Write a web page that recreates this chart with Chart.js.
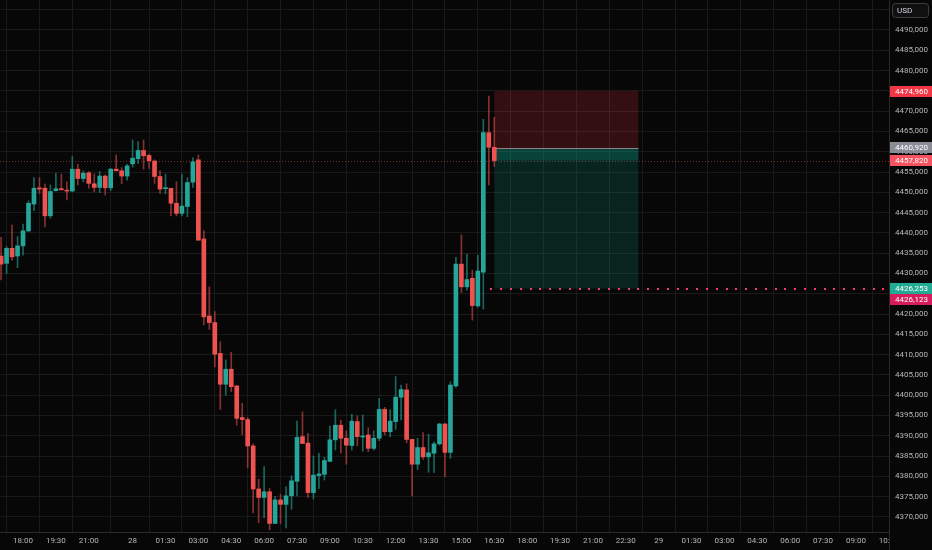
<!DOCTYPE html>
<html>
<head>
<meta charset="utf-8">
<script src="https://cdn.jsdelivr.net/npm/chart.js@4.4.1/dist/chart.umd.min.js"></script>
<style>
  html, body { margin: 0; padding: 0; background: #070707; }
  #wrap { width: 932px; height: 550px; position: relative; }
</style>
</head>
<body>
<div id="wrap"><canvas id="chart"></canvas></div>
<script>
// 15m candles, index 0 = 17:00 on the 27th
const opens  = [4434.3,4432.5,4436.2,4434.3,4436.8,4440.5,4447.1,4451.1,4451.0,4444.2,4450.4,4450.9,4450.5,4450.3,4455.7,4453.4,4454.8,4452.1,4451.2,4454.0,4451.1,4455.7,4455.3,4454.0,4457.0,4458.3,4460.3,4459.1,4457.7,4453.9,4450.9,4451.0,4447.3,4444.8,4446.5,4452.5,4458.0,4438.5,4419.5,4417.9,4410.3,4402.7,4406.4,4402.3,4394.5,4394.0,4387.5,4376.9,4374.8,4376.2,4368.4,4374.2,4373.1,4375.2,4378.8,4389.8,4388.2,4376.0,4380.2,4380.5,4383.7,4389.0,4392.6,4389.4,4387.6,4393.5,4389.7,4390.2,4386.9,4389.4,4396.5,4391.0,4393.5,4399.5,4401.3,4389.1,4383.0,4387.1,4384.8,4385.7,4388.0,4392.9,4385.9,4402.3,4432.3,4426.7,4428.8,4422.0,4430.3,4464.7,4461.1];
const highs  = [4438.9,4436.6,4441.9,4439.1,4442.2,4447.9,4453.6,4453.6,4452.0,4451.8,4454.7,4454.5,4452.6,4458.8,4456.9,4455.3,4455.1,4454.5,4455.1,4454.3,4455.9,4459.2,4456.1,4456.9,4462.9,4462.5,4462.9,4459.4,4458.0,4455.3,4454.5,4451.0,4452.6,4454.5,4453.6,4458.5,4459.2,4440.5,4426.7,4420.6,4413.2,4408.7,4410.6,4402.3,4398.0,4394.5,4388.0,4379.3,4382.4,4377.0,4375.1,4375.6,4377.4,4380.1,4393.6,4395.9,4390.6,4385.0,4385.7,4384.7,4392.4,4396.4,4393.9,4391.2,4395.3,4394.9,4395.1,4392.0,4391.2,4399.2,4397.0,4396.4,4404.6,4402.5,4402.8,4389.1,4389.4,4390.8,4390.4,4388.5,4393.1,4393.1,4403.3,4434.0,4439.5,4434.8,4430.8,4434.5,4468.0,4473.7,4468.5];
const lows   = [4428.4,4430.0,4433.3,4431.4,4434.5,4440.3,4445.5,4449.7,4441.5,4443.6,4450.3,4450.6,4448.1,4450.2,4451.8,4452.6,4451.0,4450.1,4449.9,4449.3,4450.4,4455.3,4452.1,4453.0,4456.2,4457.1,4455.7,4455.9,4452.2,4449.7,4449.6,4444.2,4444.2,4444.2,4444.0,4451.2,4438.2,4417.3,4416.2,4407.0,4396.5,4400.0,4400.9,4392.6,4390.2,4382.2,4371.0,4368.6,4369.8,4366.8,4368.4,4368.4,4367.3,4371.9,4375.2,4388.1,4374.8,4374.4,4377.0,4379.1,4383.6,4386.5,4385.7,4383.0,4386.5,4387.5,4386.2,4386.1,4386.5,4388.8,4390.2,4389.8,4391.6,4393.9,4388.3,4375.2,4381.7,4384.2,4381.0,4381.0,4387.7,4379.9,4384.4,4401.9,4425.3,4425.9,4418.5,4421.7,4421.2,4451.8,4456.3];
const closes = [4432.3,4436.2,4434.1,4436.8,4440.5,4447.3,4451.0,4450.8,4444.2,4450.2,4450.9,4450.6,4450.3,4455.7,4453.4,4454.7,4452.2,4451.2,4454.0,4451.1,4455.7,4455.3,4454.0,4456.5,4458.4,4460.3,4459.0,4457.8,4453.9,4450.8,4451.1,4447.3,4444.8,4446.6,4452.4,4457.5,4438.2,4419.3,4417.9,4410.1,4402.7,4406.4,4402.1,4394.3,4394.0,4387.5,4376.9,4374.8,4376.2,4368.4,4374.2,4373.1,4375.2,4378.9,4389.6,4388.1,4376.0,4380.3,4380.6,4383.9,4389.0,4392.6,4389.4,4387.7,4393.6,4389.8,4389.9,4386.9,4389.4,4396.5,4391.0,4393.6,4399.5,4401.4,4389.1,4383.0,4387.1,4384.8,4385.8,4388.0,4392.9,4385.9,4402.5,4432.3,4426.7,4428.5,4422.1,4430.6,4464.7,4461.1,4457.82];

// time axis: bar index of each label
const timeTickIdx    = [4, 10, 16, 24, 30, 36, 42, 48, 54, 60, 66, 72, 78, 84, 90, 96, 102, 108, 114, 120, 126, 132, 138, 144, 150, 156, 162];
const timeTickLabels = ['18:00','19:30','21:00','28','01:30','03:00','04:30','06:00','07:30','09:00','10:30','12:00','13:30','15:00','16:30','18:00','19:30','21:00','22:30','29','01:30','03:00','04:30','06:00','07:30','09:00','10:30'];
const priceTicks = [4370,4375,4380,4385,4390,4395,4400,4405,4410,4415,4420,4425,4430,4435,4440,4445,4450,4455,4460,4465,4470,4475,4480,4485,4490,4495];

// short position tool: stop, entry, target and its time span (bar index)
const posLevels = [4474.960, 4460.920, 4426.253];
const posSpan = [90, 116.3];
const lastPrice = 4457.820;
const alertPrice = 4426.123;
const alertStartIdx = 89.3;

const UP = '#26a69a';
const DOWN = '#ef5350';
const UP_WICK = 'rgba(38,166,154,0.6)';
const DOWN_WICK = 'rgba(239,83,80,0.55)';
const BG = '#070707';
const GRID = '#1a1a1a';
const FONT = "Roboto, 'Liberation Sans', sans-serif";

const fmt = v => v.toFixed(3).replace('.', ',');

const bodies = opens.map((o, i) => ({ x: i, y: [o, closes[i]] }));
const wicks = opens.map((o, i) => ({ x: i, y: [lows[i], highs[i]] }));
const isUp = opens.map((o, i) => closes[i] >= o);

const noPadding = scale => {
    scale.paddingTop = 0;
    scale.paddingBottom = 0;
    scale.paddingLeft = 0;
    scale.paddingRight = 0;
};

const overlay = {
    id: 'overlay',
    beforeDatasetsDraw(chart) {
        const { ctx, chartArea: a, scales: { x, y } } = chart;
        const x0 = x.getPixelForValue(posSpan[0]);
        const x1 = x.getPixelForValue(posSpan[1]);
        const yStop = y.getPixelForValue(posLevels[0]);
        const yEntry = y.getPixelForValue(posLevels[1]);
        const yTarget = y.getPixelForValue(posLevels[2]);
        const yNow = y.getPixelForValue(lastPrice);
        ctx.save();
        ctx.fillStyle = 'rgba(242,54,69,0.19)';
        ctx.fillRect(x0, yStop, x1 - x0, yEntry - yStop);
        ctx.fillStyle = 'rgba(8,153,129,0.2)';
        ctx.fillRect(x0, yEntry, x1 - x0, yTarget - yEntry);
        // part already in profit
        ctx.fillStyle = 'rgba(8,153,129,0.26)';
        ctx.fillRect(x0, yEntry, x1 - x0, yNow - yEntry);
        ctx.strokeStyle = '#8c8489';
        ctx.lineWidth = 1;
        ctx.beginPath();
        ctx.moveTo(x0, Math.round(yEntry) + 0.5);
        ctx.lineTo(x1, Math.round(yEntry) + 0.5);
        ctx.stroke();
        // last price line
        ctx.strokeStyle = 'rgba(239,83,80,0.5)';
        ctx.setLineDash([1, 2]);
        ctx.beginPath();
        ctx.moveTo(a.left, Math.round(yNow) + 0.5);
        ctx.lineTo(a.right, Math.round(yNow) + 0.5);
        ctx.stroke();
        ctx.restore();
    },
    afterDatasetsDraw(chart) {
        const { ctx, chartArea: a, scales: { x, y } } = chart;
        const ya = Math.round(y.getPixelForValue(alertPrice));
        ctx.save();
        ctx.fillStyle = '#f23d6b';
        for (let px = x.getPixelForValue(alertStartIdx); px < a.right - 1; px += 9.8) {
            ctx.fillRect(Math.round(px), ya - 1, 2, 2);
        }
        ctx.restore();
    },
    afterDraw(chart) {
        const { ctx, chartArea: a, scales: { y }, width, height } = chart;
        ctx.save();
        // hide the part of the last time label that runs under the price scale
        ctx.fillStyle = BG;
        ctx.fillRect(a.right + 1, a.bottom + 1, width - a.right, height - a.bottom);
        ctx.strokeStyle = '#2a2a2a';
        ctx.lineWidth = 1;
        ctx.beginPath();
        ctx.moveTo(a.right + 0.5, 0);
        ctx.lineTo(a.right + 0.5, height);
        ctx.stroke();

        // price scale labels
        const labels = [
            { v: posLevels[0], bg: '#f23645' },
            { v: posLevels[1], bg: '#8a8d96' },
            { v: lastPrice, bg: '#f7525f' },
            { v: posLevels[2], bg: '#22ab94' },
            { v: alertPrice, bg: '#d81b5c' }
        ];
        const h = 11;
        let prev = -100;
        ctx.font = '8px ' + FONT;
        ctx.textBaseline = 'middle';
        ctx.textAlign = 'left';
        labels.forEach(l => {
            let cy = y.getPixelForValue(l.v);
            if (cy - prev < h) cy = prev + h;
            prev = cy;
            ctx.fillStyle = l.bg;
            ctx.fillRect(a.right + 1, Math.round(cy - h / 2), width - a.right - 1, h);
            ctx.fillStyle = '#ffffff';
            ctx.fillText(fmt(l.v), a.right + 6, cy + 0.5);
        });

        // currency box
        ctx.fillStyle = '#101010';
        ctx.strokeStyle = '#3d3d3d';
        ctx.beginPath();
        ctx.roundRect(a.right + 3.5, 3.5, 36, 14, 3);
        ctx.fill();
        ctx.stroke();
        ctx.fillStyle = '#d1d4dc';
        ctx.fillText('USD', a.right + 8, 11);
        ctx.restore();
    }
};

new Chart(document.getElementById('chart'), {
    type: 'bar',
    data: {
        datasets: [
            {
                label: 'wicks',
                data: wicks,
                backgroundColor: isUp.map(u => u ? UP_WICK : DOWN_WICK),
                barThickness: 1,
                grouped: false,
                order: 2
            },
            {
                label: 'bodies',
                data: bodies,
                backgroundColor: isUp.map(u => u ? UP : DOWN),
                barThickness: 4,
                minBarLength: 1,
                grouped: false,
                order: 1
            }
        ]
    },
    options: {
        responsive: true,
        maintainAspectRatio: false,
        animation: false,
        layout: { padding: 0 },
        plugins: {
            legend: { display: false },
            tooltip: { enabled: false }
        },
        scales: {
            x: {
                type: 'linear',
                min: -0.2,
                max: 162.03,
                offset: false,
                afterBuildTicks: scale => {
                    scale.ticks = timeTickIdx.map(v => ({ value: v }));
                },
                afterFit: scale => {
                    scale.height = 18;
                    noPadding(scale);
                },
                ticks: {
                    autoSkip: false,
                    maxRotation: 0,
                    padding: 4,
                    color: '#b8b8b8',
                    font: { family: FONT, size: 8 },
                    callback: (value, index) => timeTickLabels[index]
                },
                grid: { color: GRID, drawTicks: false },
                border: { color: '#2a2a2a' }
            },
            y: {
                position: 'right',
                min: 4366.29,
                max: 4497.39,
                afterBuildTicks: scale => {
                    scale.ticks = priceTicks.map(v => ({ value: v }));
                },
                afterFit: scale => {
                    scale.width = 43;
                    noPadding(scale);
                },
                ticks: {
                    padding: 6,
                    color: '#b8b8b8',
                    font: { family: FONT, size: 8 },
                    callback: value => value > 4490 ? '' : fmt(value)
                },
                grid: { color: GRID, drawTicks: false },
                border: { color: '#2a2a2a' }
            }
        }
    },
    plugins: [overlay]
});
</script>
</body>
</html>
